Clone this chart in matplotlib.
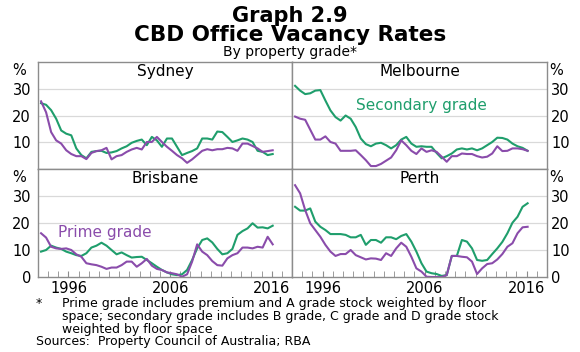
import numpy as np
import matplotlib
matplotlib.use("Agg")
import matplotlib.pyplot as plt

plt.rcParams['font.family'] = ['DejaVu Sans']

# half-yearly observations, mid 1993 to early 2016
dates = np.linspace(1993.3, 2016.1, 47)

sydney_prime = [25.3, 21.2, 13.8, 10.7, 9.5, 7, 5.6, 4.8, 4.8, 3.7, 6, 6.7, 7, 7.9, 3.6, 4.8,
                5.2, 6.4, 7.3, 7.9, 7.3, 10.1, 10.1, 12, 10.1, 8.3, 6.8, 5.2, 4, 2.3, 3.6, 5.2,
                6.8, 7.4, 7, 7.4, 7.4, 7.9, 7.7, 6.8, 9.5, 9.5, 8.6, 7.7, 6.4, 6.7, 7]
sydney_secondary = [24.6, 24, 22, 18.8, 14.4, 13.2, 12.6, 7.7, 5.2, 4, 6.4, 6.7, 6.8, 6, 6.2, 6.7,
                    7.7, 8.5, 9.8, 10.5, 11, 8.9, 12, 10.7, 8.3, 11.4, 11.4, 8.3, 5.2, 6, 6.7, 7.7,
                    11.4, 11.4, 11, 14, 13.8, 12, 10.1, 10.7, 11.4, 11, 10.1, 6.8, 6.4, 5.2, 5.6]
melbourne_prime = [19.6, 18.8, 18.4, 14.7, 11, 11, 12.2, 10.1, 9.5, 6.8, 6.8, 6.8, 7, 5.2, 3.3, 1.1,
                   1.1, 1.9, 3.1, 4.3, 7, 10.7, 8.9, 6.8, 5.6, 7.7, 6.4, 7, 6.4, 4.6, 2.7, 4.8,
                   4.8, 5.8, 5.6, 5.6, 4.8, 4.3, 4.6, 5.8, 8.5, 6.7, 6.8, 7.7, 7.7, 7.4, 6.8]
melbourne_secondary = [31.1, 29.3, 28, 28.3, 29.3, 29.5, 25.6, 21.9, 19.4, 18.1, 20, 18.8, 15.7, 11.4, 9.3, 8.5,
                       9.5, 9.8, 8.9, 7.7, 8.9, 11, 12, 9.5, 8.3, 8.5, 8.3, 8.3, 6, 4, 4.8, 5.8,
                       7.3, 7.7, 7.3, 7.7, 7, 7.7, 8.9, 10.1, 11.7, 11.6, 11, 9.5, 8.5, 7.9, 6.8]
brisbane_prime = [16.2, 14.6, 11.2, 10.6, 10.4, 10.6, 10, 8.4, 7.5, 5.1, 4.7, 4.4, 3.8, 3, 3.5, 3.5,
                  4.4, 5.7, 5.7, 3.8, 5.1, 6.7, 4.2, 3, 2.6, 1.7, 1.4, 1, 0.1, 1, 5.7, 12.1,
                  9.4, 8.1, 5.9, 4.4, 4.2, 6.9, 8.1, 8.8, 10.9, 10.9, 10.6, 11.2, 10.9, 14.9, 12.1]
brisbane_secondary = [9.4, 10, 11.6, 10.9, 10.4, 9.4, 8.8, 8.1, 7.8, 8.8, 10.9, 11.6, 12.7, 11.6, 10, 8.4,
                      9.1, 8.1, 7.2, 7.4, 7.5, 6.3, 5.1, 3.8, 2.6, 1.7, 1, 0.7, 1, 2.6, 6.3, 10.6,
                      13.7, 14.3, 12.8, 10.4, 8.4, 8.8, 10.4, 15.6, 17, 18, 19.9, 18.3, 18.4, 18, 19]
perth_prime = [34, 31, 24.8, 19.9, 17.4, 14.9, 11.9, 9.4, 7.8, 8.5, 8.5, 10, 8.1, 7.3, 6.5, 6.9,
               6.8, 6.3, 8.8, 7.8, 10.6, 12.7, 11.2, 7.5, 3.2, 2, 0.1, 0, 0, 0, 0.7, 7.8,
               7.8, 7.5, 7.3, 5.7, 1.1, 3.2, 4.8, 5.1, 6.5, 8.5, 11.2, 12.5, 16.2, 18.4, 18.6]
perth_secondary = [26, 24.6, 24.6, 25.4, 20.5, 18.6, 17.4, 15.9, 15.9, 15.9, 15.6, 14.7, 14.7, 15.6, 11.9, 13.7,
                   13.7, 12.7, 14.7, 14.7, 14, 15.2, 15.9, 13.1, 9.4, 5.1, 2, 1.4, 1.1, 0.4, 0.7, 7.8,
                   7.8, 13.7, 13.1, 10.6, 6.3, 6, 6.3, 8.5, 10.6, 13, 16.2, 20.1, 22.3, 26, 27.3]

cities = ["Sydney", "Melbourne", "Brisbane", "Perth"]
prime = [sydney_prime, melbourne_prime, brisbane_prime, perth_prime]
secondary = [sydney_secondary, melbourne_secondary, brisbane_secondary, perth_secondary]

GREEN = '#1f9e6c'
PURPLE = '#8a4cab'
FRAME = '#8c8c8c'

fig = plt.figure(figsize=(5.8, 3.52), dpi=100)
L, M, R = 38 / 580, 292 / 580, 547 / 580
T, MID, B = 1 - 62 / 352, 1 - 169 / 352, 1 - 277 / 352
boxes = [(L, MID, M - L, T - MID), (M, MID, R - M, T - MID),
         (L, B, M - L, MID - B), (M, B, R - M, MID - B)]

for i, city in enumerate(cities):
    ax = fig.add_axes(boxes[i])
    ax.plot(dates, secondary[i], color=GREEN, lw=1.5)
    ax.plot(dates, prime[i], color=PURPLE, lw=1.5)
    ax.set_xlim(1993, 2018)
    ax.set_ylim(0, 40)
    for g in (10, 20, 30):
        ax.axhline(g, color='#d9d9d9', lw=0.9, zorder=0)
    for sp in ax.spines.values():
        sp.set_color(FRAME)
        sp.set_linewidth(1)

    bottom = i >= 2
    right = i % 2 == 1
    ax.set_yticks([0, 10, 20, 30] if bottom else [10, 20, 30])
    ax.tick_params(axis='y', length=0, labelsize=10.5, pad=5 if not right else 3,
                   left=False, right=False, labelleft=not right, labelright=right)
    ax.text(1.035 if right else -0.075, 39.5, '%', transform=ax.get_yaxis_transform(),
            ha='center', va='top', fontsize=10.5)

    if bottom:
        ax.set_xticks([1996, 2006, 2016])
        ax.set_xticklabels(['1996', '2006', '2016'])
        ax.set_xticks(range(1994, 2018), minor=True)
        ax.tick_params(axis='x', which='both', direction='in', length=4, color=FRAME,
                       labelsize=10.5, pad=3)
    else:
        ax.set_xticks([])

    ax.text(0.5, 0.91, city, transform=ax.transAxes, ha='center', va='center', fontsize=11)

    if city == "Melbourne":
        ax.text(2005.7, 23.7, "Secondary grade", color=GREEN, ha='center', va='center', fontsize=11)
    if city == "Brisbane":
        ax.text(1999.6, 16.3, "Prime grade", color=PURPLE, ha='center', va='center', fontsize=11)

fig.text(0.5, 1 - 16 / 352, "Graph 2.9", ha='center', va='center', fontsize=15, fontweight='bold')
fig.text(0.5, 1 - 35 / 352, "CBD Office Vacancy Rates", ha='center', va='center', fontsize=15.5,
         fontweight='bold')
fig.text(0.5, 1 - 52 / 352, "By property grade*", ha='center', va='center', fontsize=10)

foot = ("Prime grade includes premium and A grade stock weighted by floor\n"
        "space; secondary grade includes B grade, C grade and D grade stock\n"
        "weighted by floor space")
fig.text(36 / 580, 1 - 297 / 352, "*", ha='left', va='top', fontsize=9)
fig.text(62 / 580, 1 - 297 / 352, foot, ha='left', va='top', fontsize=9, linespacing=0.98)
fig.text(36 / 580, 1 - 342 / 352, "Sources:  Property Council of Australia; RBA", ha='left',
         va='center', fontsize=9)

fig.savefig("out.png", dpi=100)
plt.close(fig)
